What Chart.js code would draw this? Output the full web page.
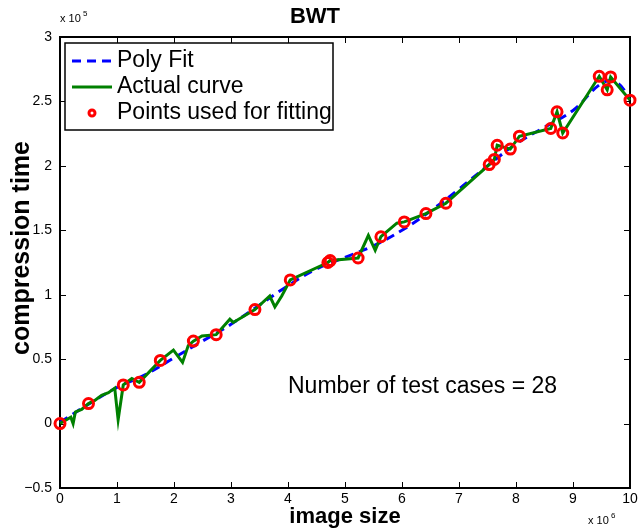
<!DOCTYPE html>
<html>
<head>
<meta charset="utf-8">
<script src="https://cdn.jsdelivr.net/npm/chart.js@4/dist/chart.umd.min.js"></script>
<style>
body{margin:0;background:#fff;}
</style>
</head>
<body>
<canvas id="myChart" width="641" height="532"></canvas>
<script>
// x values are image size (x 10^6), y values compression time (x 10^5)
// points used for fitting (28 test cases)
var fitX = [0, 0.50, 1.11, 1.39, 1.76, 2.34, 2.74, 3.42, 4.04, 4.70, 4.74, 5.23, 5.63, 6.04,
            6.42, 6.77, 7.53, 7.62, 7.67, 7.90, 8.06, 8.61, 8.72, 8.82, 9.46, 9.60, 9.66, 10.0];
var fitY = [0, 0.155, 0.30, 0.32, 0.49, 0.64, 0.69, 0.885, 1.115, 1.25, 1.265, 1.285, 1.45, 1.565,
            1.63, 1.71, 2.01, 2.05, 2.16, 2.13, 2.23, 2.29, 2.42, 2.255, 2.695, 2.59, 2.69, 2.51];

// actual measured curve
var actualX = [0, 0.19, 0.23, 0.27, 0.38, 0.50, 0.61, 0.73, 0.85, 0.96, 1.02, 1.11, 1.26, 1.39,
               1.76, 1.99, 2.15, 2.25, 2.34, 2.49, 2.74, 2.98, 3.04, 3.42, 3.68, 3.77, 3.89, 4.04,
               4.70, 4.74, 5.23, 5.41, 5.53, 5.63, 5.91, 6.04, 6.42, 6.77, 7.53, 7.62, 7.67, 7.90,
               8.06, 8.61, 8.72, 8.82, 9.46, 9.60, 9.66, 10.0];
var actualY = [0, 0.05, 0.0, 0.09, 0.11, 0.155, 0.18, 0.22, 0.24, 0.275, 0.03, 0.30, 0.35, 0.32,
               0.49, 0.57, 0.475, 0.605, 0.64, 0.68, 0.69, 0.81, 0.785, 0.885, 0.99, 0.905, 0.99, 1.115,
               1.25, 1.265, 1.285, 1.46, 1.345, 1.45, 1.555, 1.565, 1.63, 1.71, 2.01, 2.05, 2.16, 2.13,
               2.23, 2.29, 2.42, 2.255, 2.695, 2.59, 2.69, 2.51];

// polynomial fit
var polyX = [0, 0.5, 1, 1.5, 2, 2.5, 3, 3.5, 4, 4.5, 5, 5.5, 6, 6.5, 7, 7.5, 8, 8.5, 9, 9.5, 9.75, 10];
var polyY = [0.01, 0.15, 0.28, 0.38, 0.51, 0.64, 0.77, 0.92, 1.07, 1.20, 1.29, 1.38, 1.50, 1.65,
             1.82, 2.00, 2.17, 2.30, 2.43, 2.64, 2.65, 2.53];

var xTicks = [0, 1, 2, 3, 4, 5, 6, 7, 8, 9, 10];
var yTicks = [-0.5, 0, 0.5, 1, 1.5, 2, 2.5, 3];

var legendItems = ['Poly Fit', 'Actual curve', 'Points used for fitting'];
var noteText = 'Number of test cases = 28';
var yTitle = 'compression time';

function toPoints(xs, ys){
    var out = [];
    for(var i=0;i<xs.length;i++){
        out.push({x: xs[i], y: ys[i]});
    }
    return out;
}

var FONT = '"Liberation Sans", Arial, Helvetica, sans-serif';

// frame with inward ticks (matlab style)
var framePlugin = {
    id: 'frame',
    beforeDatasetsDraw: function(chart){
        var ctx = chart.ctx, a = chart.chartArea;
        var xs = chart.scales.x, ys = chart.scales.y;
        ctx.save();
        ctx.strokeStyle = '#000';
        ctx.lineWidth = 1;
        ctx.beginPath();
        xTicks.forEach(function(t){
            var px = Math.round(xs.getPixelForValue(t)) + 0.5;
            ctx.moveTo(px, a.bottom); ctx.lineTo(px, a.bottom - 6);
            ctx.moveTo(px, a.top); ctx.lineTo(px, a.top + 6);
        });
        yTicks.forEach(function(t){
            var py = Math.round(ys.getPixelForValue(t)) + 0.5;
            ctx.moveTo(a.left, py); ctx.lineTo(a.left + 6, py);
            ctx.moveTo(a.right, py); ctx.lineTo(a.right - 6, py);
        });
        ctx.stroke();
        ctx.lineWidth = 2;
        ctx.strokeRect(a.left, a.top, a.right - a.left, a.bottom - a.top);
        ctx.restore();
    },
    afterDraw: function(chart){
        var ctx = chart.ctx, a = chart.chartArea;
        var xs = chart.scales.x, ys = chart.scales.y;
        ctx.save();
        ctx.fillStyle = '#000';
        ctx.textBaseline = 'middle';

        // y axis title
        ctx.save();
        ctx.translate(22, 248);
        ctx.rotate(-Math.PI/2);
        ctx.textAlign = 'center';
        ctx.font = 'bold 25px ' + FONT;
        ctx.fillText(yTitle, 0, 0);
        ctx.restore();

        // exponent labels
        ctx.textAlign = 'left';
        ctx.font = '11px ' + FONT;
        ctx.fillText('x 10', a.left, a.top - 18);
        ctx.font = '8px ' + FONT;
        ctx.fillText('5', a.left + 23, a.top - 23);
        ctx.font = '11px ' + FONT;
        ctx.fillText('x 10', a.right - 42, a.bottom + 33);
        ctx.font = '8px ' + FONT;
        ctx.fillText('6', a.right - 19, a.bottom + 28);

        // note text
        ctx.font = '23px ' + FONT;
        ctx.fillText(noteText, xs.getPixelForValue(4.0), ys.getPixelForValue(0.29));

        // legend box
        var bx = 65, by = 43, bw = 268, bh = 87;
        ctx.fillStyle = '#fff';
        ctx.fillRect(bx, by, bw, bh);
        ctx.strokeStyle = '#000';
        ctx.lineWidth = 1.5;
        ctx.strokeRect(bx, by, bw, bh);
        var rows = [61, 87, 113];
        ctx.lineWidth = 3;
        ctx.strokeStyle = '#0000ff';
        ctx.setLineDash([9, 6]);
        ctx.beginPath(); ctx.moveTo(72, rows[0]); ctx.lineTo(112, rows[0]); ctx.stroke();
        ctx.setLineDash([]);
        ctx.strokeStyle = '#008000';
        ctx.beginPath(); ctx.moveTo(72, rows[1]); ctx.lineTo(112, rows[1]); ctx.stroke();
        ctx.strokeStyle = '#ff0000';
        ctx.beginPath(); ctx.arc(92, rows[2], 3, 0, Math.PI*2); ctx.stroke();
        ctx.fillStyle = '#000';
        ctx.font = '23px ' + FONT;
        for(var i=0;i<legendItems.length;i++){
            ctx.fillText(legendItems[i], 117, rows[i]);
        }
        ctx.restore();
    }
};

var ctx = document.getElementById('myChart').getContext('2d');
var chart = new Chart(ctx, {
    type: 'line',
    data: {
        datasets: [{
            label: legendItems[2],
            data: toPoints(fitX, fitY),
            showLine: false,
            pointRadius: 5,
            pointBorderWidth: 3,
            pointBorderColor: '#ff0000',
            pointBackgroundColor: 'rgba(0,0,0,0)',
            clip: false
        }, {
            label: legendItems[1],
            data: toPoints(actualX, actualY),
            borderColor: '#008000',
            borderWidth: 3,
            pointRadius: 0,
            tension: 0,
            clip: false
        }, {
            label: legendItems[0],
            data: toPoints(polyX, polyY),
            borderColor: '#0000ff',
            borderWidth: 3,
            borderDash: [9, 6],
            pointRadius: 0,
            tension: 0.4,
            clip: false
        }]
    },
    options: {
        responsive: false,
        animation: false,
        layout: {padding: {left: 0, right: 11, top: 0, bottom: 0}},
        plugins: {
            legend: {display: false},
            tooltip: {enabled: false},
            title: {
                display: true,
                text: 'BWT',
                color: '#000',
                font: {family: FONT, size: 22, weight: 'bold', lineHeight: 1.2},
                padding: {top: 4, bottom: 6.6}
            }
        },
        scales: {
            x: {
                type: 'linear',
                min: 0, max: 10,
                grid: {display: false, drawTicks: false},
                border: {display: false},
                afterFit: function(s){ s.height = 44; },
                ticks: {stepSize: 1, padding: 3, color: '#000', maxRotation: 0,
                        font: {family: FONT, size: 14}},
                title: {display: true, text: 'image size', color: '#000',
                        font: {family: FONT, size: 22, weight: 'bold', lineHeight: 1.2},
                        padding: {top: 0, bottom: 2}}
            },
            y: {
                type: 'linear',
                min: -0.5, max: 3,
                grid: {display: false, drawTicks: false},
                border: {display: false},
                afterFit: function(s){ s.width = 60; },
                ticks: {stepSize: 0.5, padding: 8, color: '#000',
                        font: {family: FONT, size: 14},
                        callback: function(v){ return v < 0 ? '\u2212' + Math.abs(v) : String(v); }},
                title: {display: false}
            }
        }
    },
    plugins: [framePlugin]
});
</script>
</body>
</html>
